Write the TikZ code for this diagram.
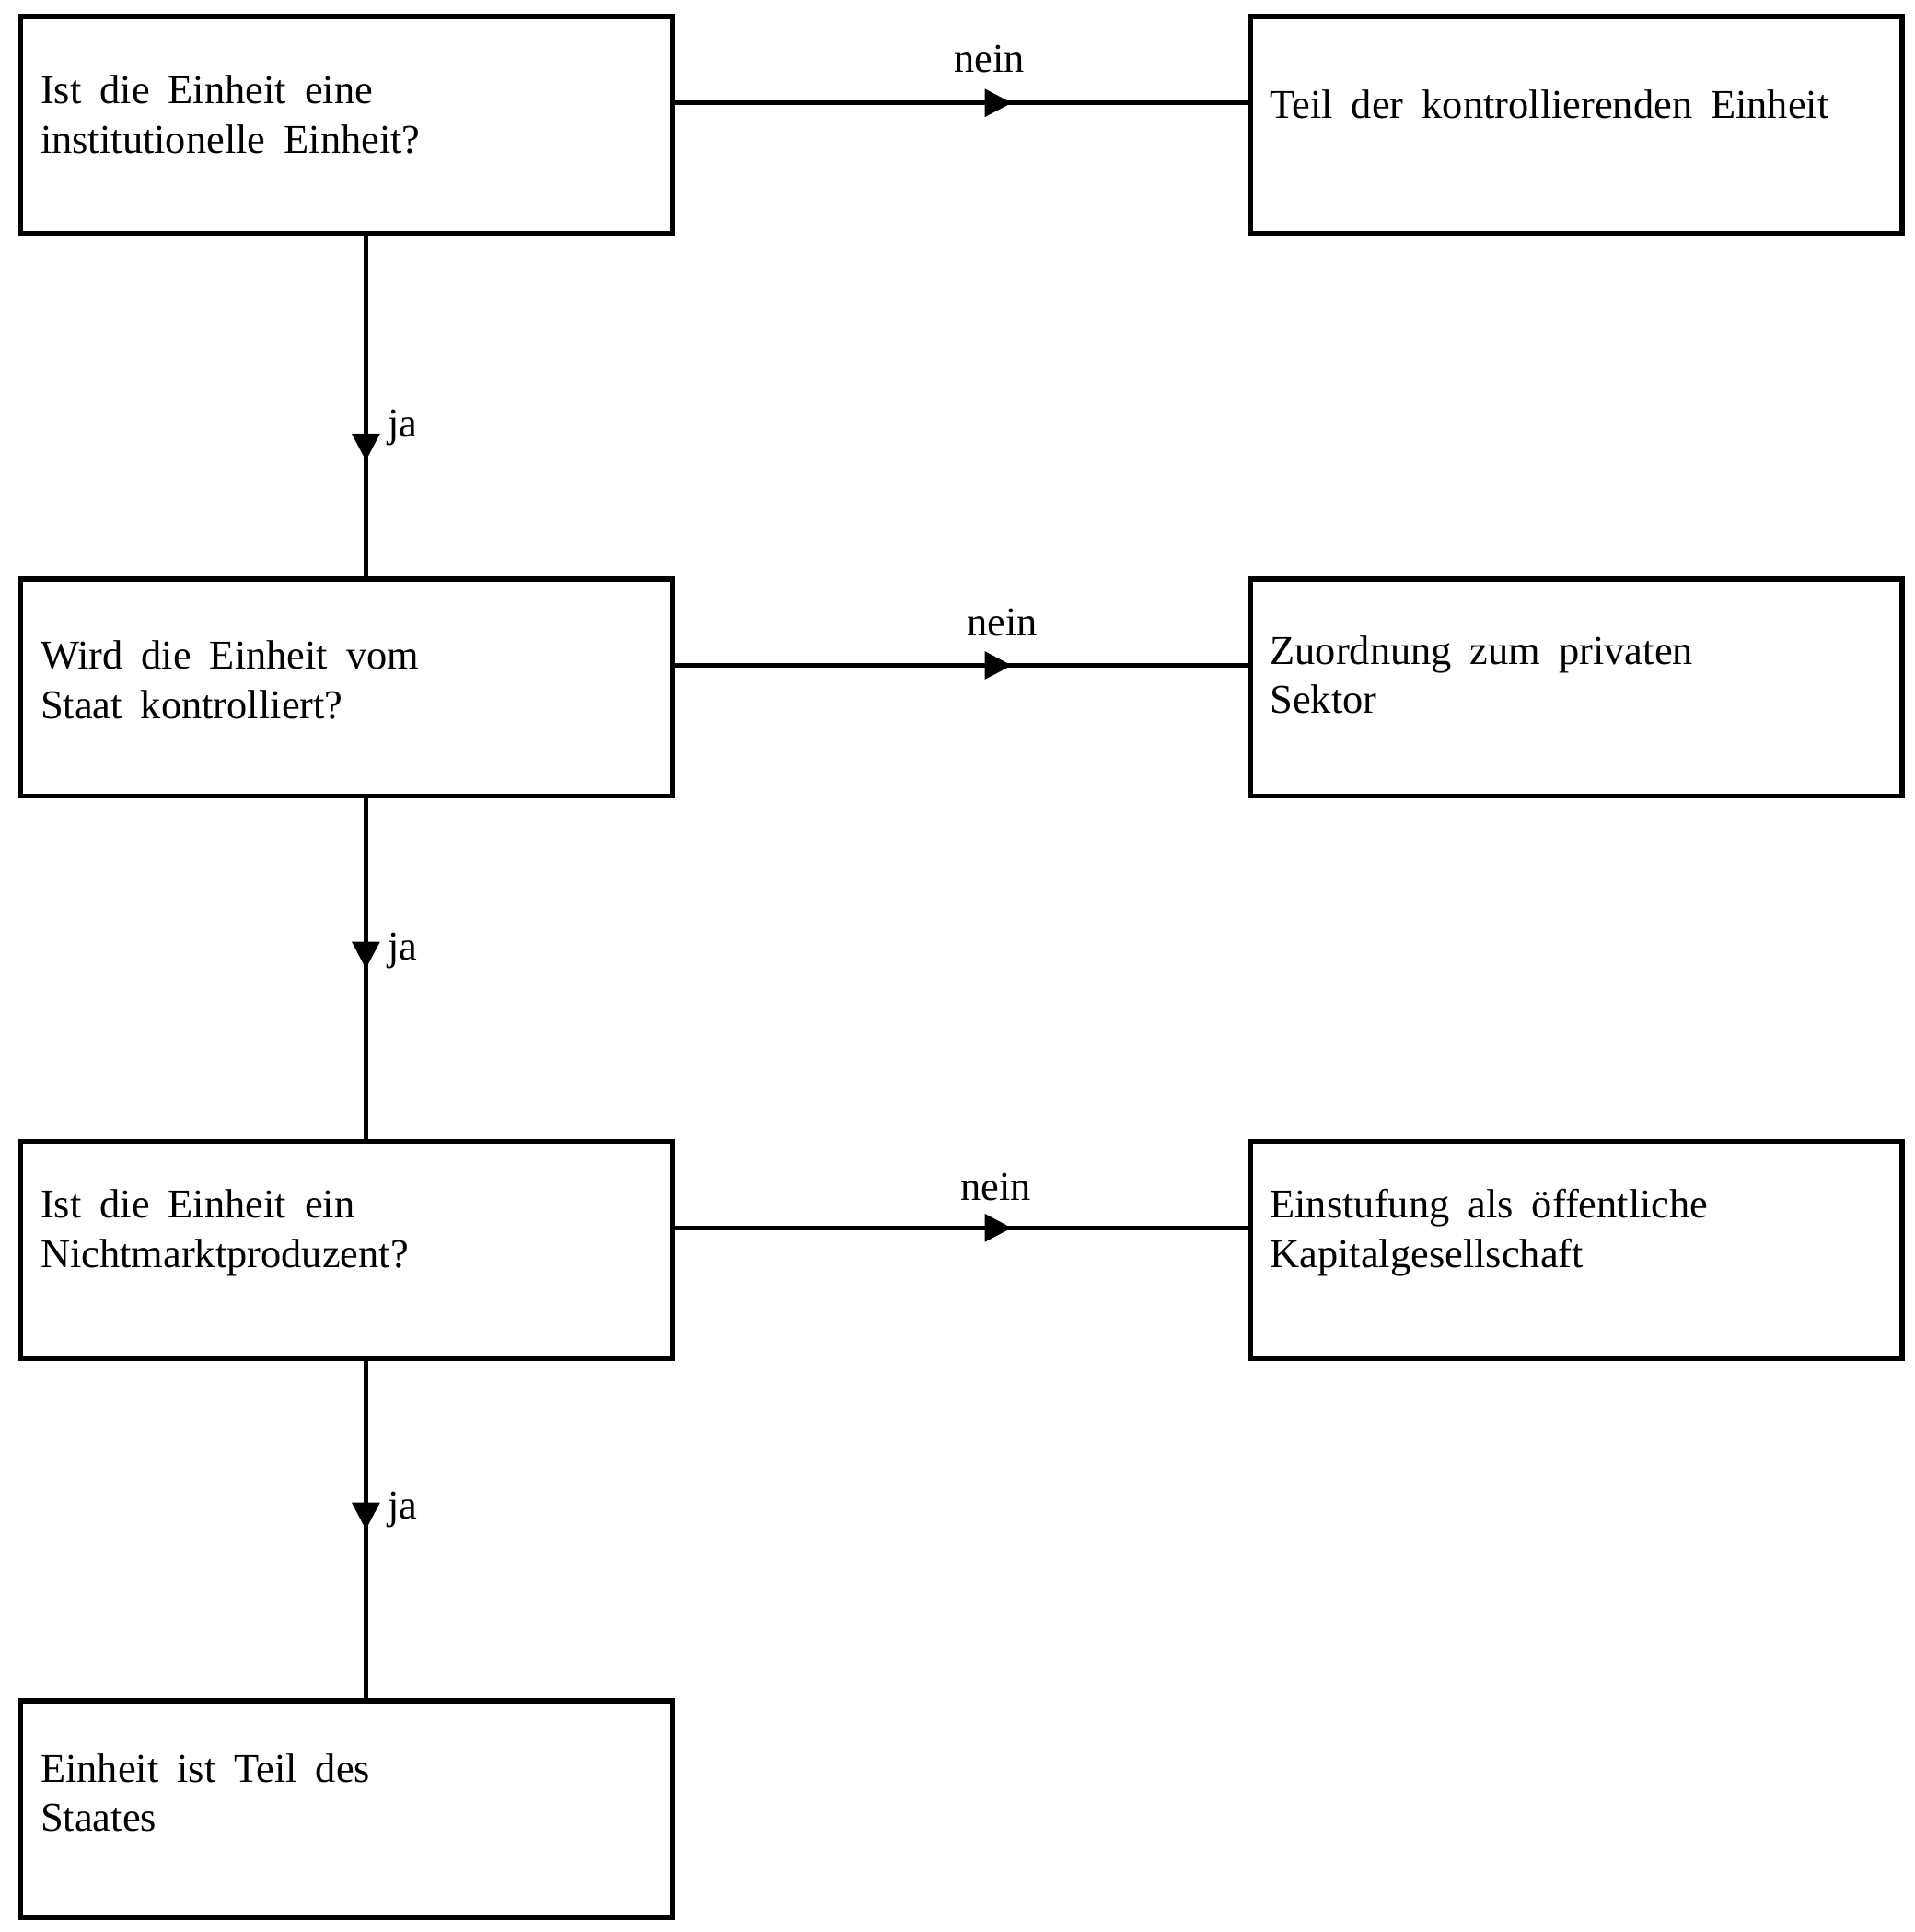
\documentclass[tikz,border=0pt]{standalone}
\usepackage{fontspec}
\setmainfont[WordSpace=1.8]{Liberation Serif}
\usetikzlibrary{arrows.meta,decorations.markings}
\newcommand\bxt[2]{\parbox[c][88pt][t]{248.5pt}{\rule{0pt}{#1}#2}}
\tikzset{
  box/.style={draw, line width=2pt, inner xsep=8pt, inner ysep=0pt, font=\fontsize{16.6}{20}\selectfont},
  conn/.style={line width=1.8pt},
  lbl/.style={inner sep=0pt, font=\fontsize{16.6}{20}\selectfont},
  midtip/.style={postaction={decorate}, decoration={markings, mark=at position #1 with {\arrow{Triangle[length=11pt,width=11pt]}}}}
}
\begin{document}
\begin{tikzpicture}[x=0.5pt,y=-0.5pt]
\useasboundingbox (0,0) rectangle (1554,1568);
% left column
\node[box] (q1) at (281.5,101.5) {\bxt{35.4pt}{Ist die Einheit eine\\institutionelle Einheit?}};
\node[box] (q2) at (281.5,558) {\bxt{36.5pt}{Wird die Einheit vom\\Staat kontrolliert?}};
\node[box] (q3) at (281.5,1014.5) {\bxt{31pt}{Ist die Einheit ein\\Nichtmarktproduzent?}};
\node[box] (q4) at (281.5,1468.5) {\bxt{33pt}{Einheit ist Teil des\\Staates}};
% right column
\node[box] (r1) at (1279.5,101.5) {\bxt{41.4pt}{Teil der kontrollierenden Einheit}};
\node[box] (r2) at (1279.5,558) {\bxt{34.5pt}{Zuordnung zum privaten\\Sektor}};
\node[box] (r3) at (1279.5,1014.5) {\bxt{31pt}{Einstufung als öffentliche\\Kapitalgesellschaft}};
% nein connectors
\draw[conn, midtip=0.588] ([yshift=9pt]q1.east) -- node[lbl, pos=0.549, yshift=12.5pt, anchor=base]{nein} ([yshift=9pt]r1.west);
\draw[conn, midtip=0.588] ([yshift=9pt]q2.east) -- node[lbl, pos=0.571, yshift=12pt, anchor=base]{nein} ([yshift=9pt]r2.west);
\draw[conn, midtip=0.588] ([yshift=9pt]q3.east) -- node[lbl, pos=0.560, yshift=11pt, anchor=base]{nein} ([yshift=9pt]r3.west);
% ja connectors
\draw[conn, midtip=0.66] ([xshift=7.75pt]q1.south) -- node[lbl, pos=0.59, xshift=8pt, anchor=base west]{ja} ([xshift=7.75pt]q2.north);
\draw[conn, midtip=0.50] ([xshift=7.75pt]q2.south) -- node[lbl, pos=0.475, xshift=8pt, anchor=base west]{ja} ([xshift=7.75pt]q3.north);
\draw[conn, midtip=0.50] ([xshift=7.75pt]q3.south) -- node[lbl, pos=0.468, xshift=8pt, anchor=base west]{ja} ([xshift=7.75pt]q4.north);
\end{tikzpicture}
\end{document}
